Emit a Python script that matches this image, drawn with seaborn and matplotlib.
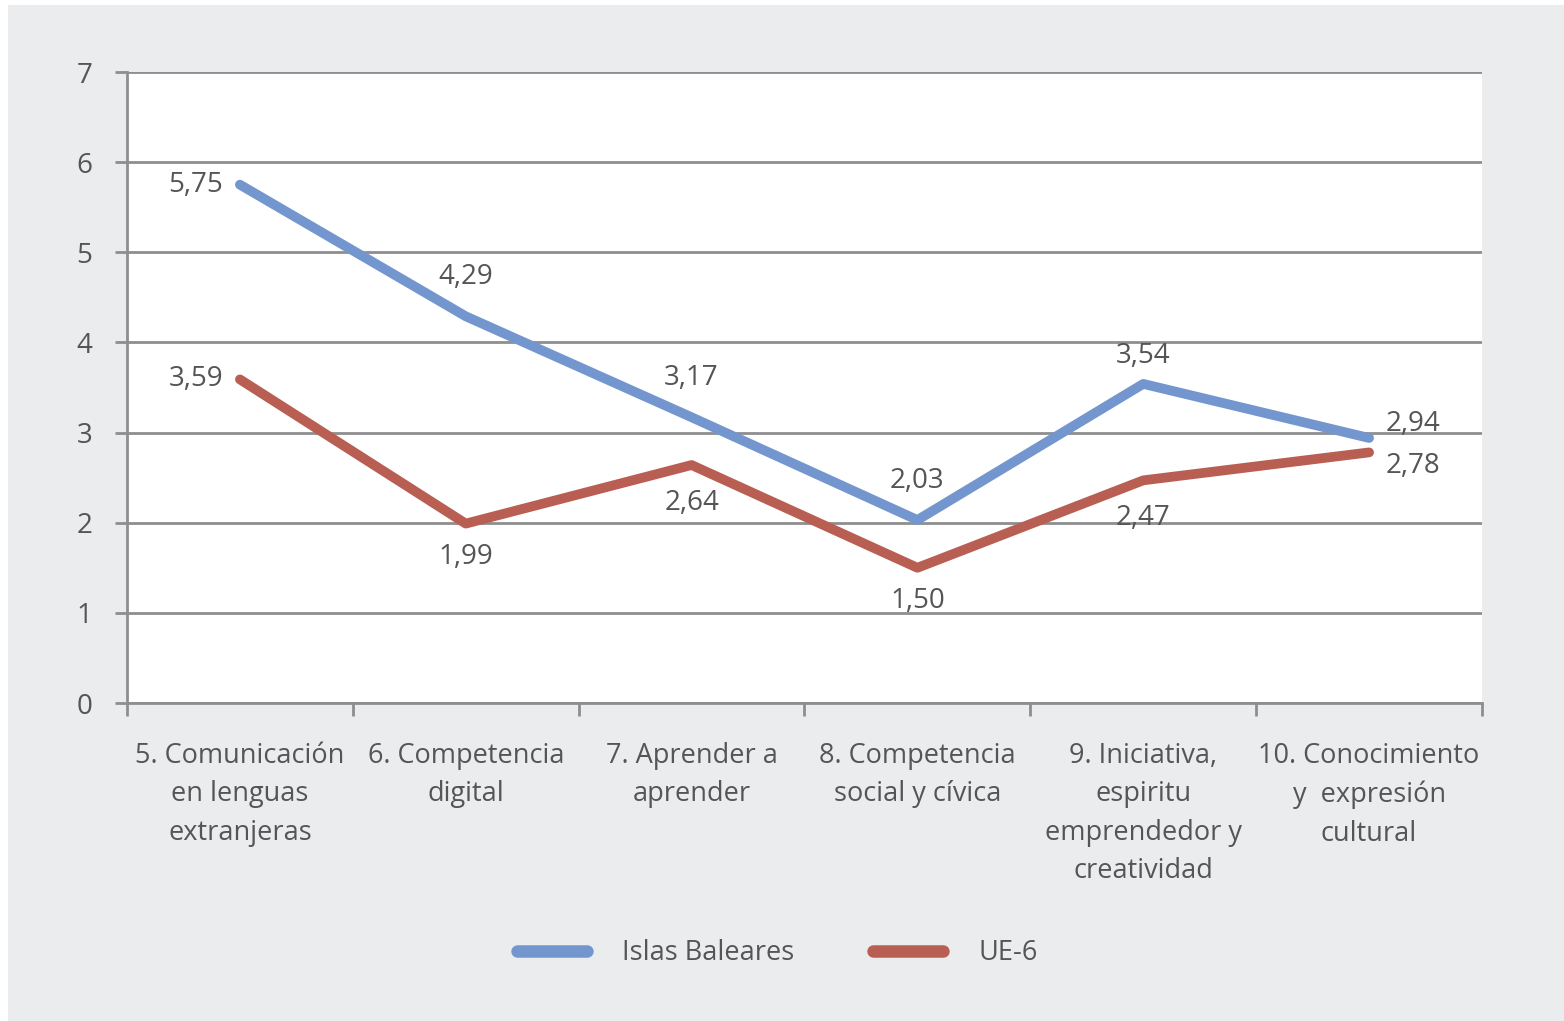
import matplotlib
matplotlib.use("Agg")
import matplotlib.pyplot as plt
import matplotlib.patches as mpatches
from matplotlib.ticker import FixedLocator
import pandas as pd
import seaborn as sns

categories = [
    "5. Comunicación\nen lenguas\nextranjeras",
    "6. Competencia\ndigital",
    "7. Aprender a\naprender",
    "8. Competencia\nsocial y cívica",
    "9. Iniciativa,\nespiritu\nemprendedor y\ncreatividad",
    "10. Conocimiento\ny  expresión\ncultural",
]
baleares = [5.75, 4.29, 3.17, 2.03, 3.54, 2.94]
ue6 = [3.59, 1.99, 2.64, 1.50, 2.47, 2.78]
series_names = ["Islas Baleares", "UE-6"]

BLUE = "#7396cf"
RED = "#b85e52"
GRAY_BG = "#ebecee"
GRID = "#8e8e8e"
TEXT = "#555555"

sns.set_theme(style="white")
plt.rcParams["font.family"] = ["Open Sans", "DejaVu Sans"]

df = pd.DataFrame({
    "cat": categories * 2,
    "value": baleares + ue6,
    "serie": [series_names[0]] * 6 + [series_names[1]] * 6,
})

fig = plt.figure(figsize=(15.64, 10.21), dpi=100, facecolor="white")
fig.patches.append(mpatches.Rectangle((8 / 1564, 0), 1, 1 - 5 / 1021, transform=fig.transFigure,
                                      facecolor=GRAY_BG, edgecolor="none", zorder=-10))
ax = fig.add_axes([127 / 1564, 1 - 703 / 1021, (1482 - 127) / 1564, (703 - 72) / 1021])
ax.set_facecolor("white")

sns.lineplot(data=df, x="cat", y="value", hue="serie", palette=[BLUE, RED], sort=False,
             linewidth=7, ax=ax, legend=False, zorder=3)
for line in ax.lines:
    line.set_solid_capstyle("round")
    line.set_solid_joinstyle("round")

ax.set_xlim(-0.5, 5.5)
ax.set_ylim(0, 7)
ax.set_yticks(range(8))
ax.yaxis.grid(True, color=GRID, linewidth=2)
ax.set_axisbelow(True)
for s in ["top", "right"]:
    ax.spines[s].set_visible(False)
for s in ["left", "bottom"]:
    ax.spines[s].set_color(GRID)
    ax.spines[s].set_linewidth(2)

ax.tick_params(axis="y", length=9, width=2, color=GRID, labelsize=20, labelcolor=TEXT, pad=16, left=True)
ax.set_xticks(range(6))
ax.set_xticklabels(categories, fontsize=19.5, color=TEXT, linespacing=1.5)
ax.tick_params(axis="x", which="major", length=0, pad=28)
ax.xaxis.set_minor_locator(FixedLocator([i - 0.5 for i in range(7)]))
ax.tick_params(axis="x", which="minor", length=9, width=2, color=GRID, bottom=True)
ax.set_xlabel("")
ax.set_ylabel("")

def fmt(v):
    return f"{v:.2f}".replace(".", ",")

# label positions: offsets in points relative to the point
blue_off = [(-12, 0, "right", "center"), (0, 18, "center", "bottom"), (0, 18, "center", "bottom"),
            (0, 18, "center", "bottom"), (0, 10, "center", "bottom"), (12, 0, "left", "bottom")]
red_off = [(-12, 0, "right", "center"), (0, -14, "center", "top"), (0, -17, "center", "top"),
           (0, -14, "center", "top"), (0, -17, "center", "top"), (12, 0, "left", "top")]
for vals, offs in [(baleares, blue_off), (ue6, red_off)]:
    for i, (v, (dx, dy, ha, va)) in enumerate(zip(vals, offs)):
        ax.annotate(fmt(v), (i, v), xytext=(dx, dy), textcoords="offset points",
                    ha=ha, va=va, fontsize=20, color=TEXT, zorder=5)

handles = [plt.Line2D([], [], color=c, linewidth=9, solid_capstyle="round") for c in [BLUE, RED]]
fig.legend(handles, series_names, loc="center", bbox_to_anchor=(0.497, 1 - 953 / 1021), ncol=2,
           frameon=False, fontsize=19.5, handlelength=2.6, handletextpad=1.3, columnspacing=2.9,
           labelcolor=TEXT)

fig.savefig("out.png", dpi=100, facecolor=fig.get_facecolor())
